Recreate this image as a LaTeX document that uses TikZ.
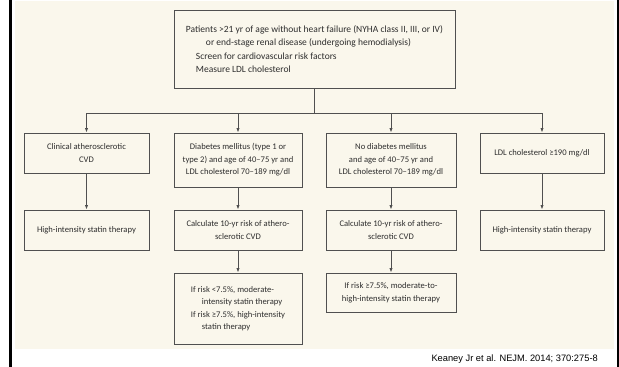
\documentclass[tikz,border=0pt]{standalone}
\usepackage{fontspec}
\setmainfont{Carlito}
\newfontfamily\citefont{Liberation Sans}
\usetikzlibrary{arrows.meta}
\definecolor{cream}{HTML}{FAF7EC}
\definecolor{boxline}{HTML}{505050}
\definecolor{txt}{HTML}{2E2E2E}
\begin{document}
\begin{tikzpicture}[x=1pt,y=-1pt,
  every node/.style={font=\fontsize{8.6}{12.5}\selectfont, text=txt},
  fbox/.style={draw=boxline, line width=0.8pt, fill=cream, align=center, inner sep=2pt},
  conn/.style={draw=boxline, line width=0.8pt},
  arr/.style={conn, -{Latex[length=4.5pt,width=3.2pt]}}]
\useasboundingbox (0,0) rectangle (619,367);
\fill[white] (0,0) rectangle (619,367);
\fill[cream] (15,1) rectangle (614,349);
\fill[black] (8.5,0) rectangle (11.5,367);
\fill[black] (616.5,0) rectangle (619,367);

% top box
\node[fbox, minimum width=281pt, minimum height=78pt, align=left, font=\fontsize{9.5}{13.5}\selectfont] (top) at (314.5,49)
 {Patients >21 yr of age without heart failure (NYHA class II, III, or IV)\\
  \hspace*{20pt}or end-stage renal disease (undergoing hemodialysis)\\
  \hspace*{10pt}Screen for cardiovascular risk factors\\
  \hspace*{10pt}Measure LDL cholesterol};

% row 1
\node[fbox, minimum width=125pt, minimum height=40pt] (a1) at (86.5,153) {Clinical atherosclerotic\\CVD};
\node[fbox, minimum width=128pt, minimum height=54pt] (b1) at (238,160) {Diabetes mellitus (type 1 or\\type 2) and age of 40--75 yr and\\LDL cholesterol 70--189 mg/dl};
\node[fbox, minimum width=130pt, minimum height=54pt] (c1) at (391,160) {No diabetes mellitus\\and age of 40--75 yr and\\LDL cholesterol 70--189 mg/dl};
\node[fbox, minimum width=124pt, minimum height=40pt] (d1) at (542,153) {LDL cholesterol ≥190 mg/dl};

% row 2
\node[fbox, minimum width=125pt, minimum height=40pt] (a2) at (86.5,230) {High-intensity statin therapy};
\node[fbox, minimum width=128pt, minimum height=40pt] (b2) at (238,230) {Calculate 10-yr risk of athero-\\sclerotic CVD};
\node[fbox, minimum width=130pt, minimum height=40pt] (c2) at (391,230) {Calculate 10-yr risk of athero-\\sclerotic CVD};
\node[fbox, minimum width=124pt, minimum height=40pt] (d2) at (542,230) {High-intensity statin therapy};

% row 3
\node[fbox, minimum width=128pt, minimum height=71pt, align=left] (b3) at (238,308.5)
 {If risk <7.5\%, moderate-\\
  \hspace*{11pt}intensity statin therapy\\
  If risk ≥7.5\%, high-intensity\\
  \hspace*{11pt}statin therapy};
\node[fbox, minimum width=130pt, minimum height=39pt] (c3) at (391,292.5) {If risk ≥7.5\%, moderate-to-\\high-intensity statin therapy};

% connectors
\coordinate (j) at (top.south |- 0,113);
\coordinate (ja) at (a1.north |- j);
\coordinate (jd) at (d1.north |- j);
\draw[conn] (top.south) -- (j);
\draw[conn] (ja) -- (jd);
\draw[arr] (ja) -- (a1.north);
\draw[arr] (b1.north |- j) -- (b1.north);
\draw[arr] (c1.north |- j) -- (c1.north);
\draw[arr] (jd) -- (d1.north);
\draw[arr] (a1) -- (a2);
\draw[arr] (b1) -- (b2);
\draw[arr] (c1) -- (c2);
\draw[arr] (d1) -- (d2);
\draw[arr] (b2) -- (b3);
\draw[arr] (c2) -- (c3);

\node[anchor=base east, font=\citefont\fontsize{9.3}{11}\selectfont, text=black, inner sep=0pt] (cite) at (598,361) {Keaney Jr et al. NEJM. 2014; 370:275-8};
\end{tikzpicture}
\end{document}
